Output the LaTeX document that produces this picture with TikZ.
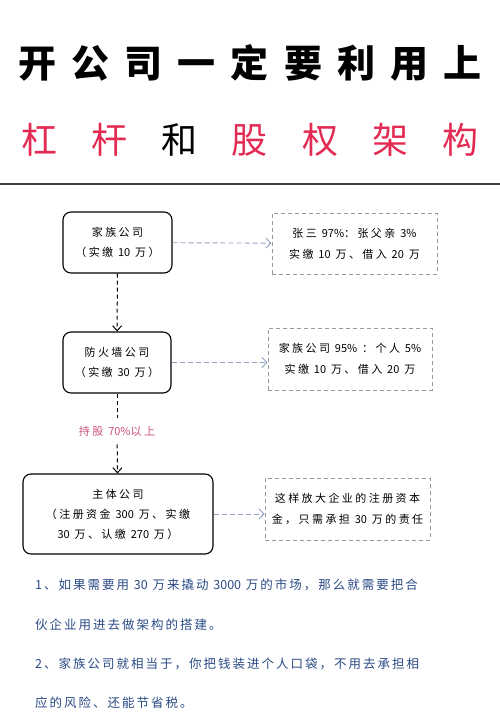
\documentclass[tikz,border=0pt]{standalone}
\usepackage{fontspec}
\usepackage{tikz}
\usetikzlibrary{positioning, arrows.meta}
\setmainfont[LetterSpace=22]{Noto Sans CJK SC}
\newfontfamily\headfont[LetterSpace=40]{Noto Sans CJK SC}
\newfontfamily\subheadfont[LetterSpace=95]{Noto Sans CJK SC}
\newfontfamily\notefont[LetterSpace=16]{Noto Sans CJK SC}
\newfontfamily\digitfont{Noto Sans CJK SC}
\newcommand\nm[1]{{\digitfont #1}}
\definecolor{headred}{RGB}{226,42,82}
\definecolor{lblpink}{RGB}{205,80,125}
\definecolor{notegray}{RGB}{150,152,162}
\definecolor{linkblue}{RGB}{140,160,192}
\definecolor{noteblue}{RGB}{42,74,132}
\tikzset{
  compbox/.style  = {draw, rounded corners=8pt, line width=1.1pt,
                     align=center, font=\fontsize{11}{20}\selectfont},
  notebox/.style  = {draw=notegray, dashed, line width=0.9pt,
                     dash pattern=on 4pt off 3pt, align=center,
                     font=\fontsize{11}{21}\selectfont},
  downarrow/.style = {dashed, line width=1pt, dash pattern=on 4pt off 3pt,
                      -{Straight Barb[length=5pt,width=9pt]}},
  sidearrow/.style = {draw=linkblue, line width=0.9pt,
                      dash pattern=on 5pt off 3pt,
                      -{Straight Barb[length=5pt,width=10pt]}},
  bodytxt/.style  = {anchor=west, inner sep=0pt, text=noteblue,
                     font=\notefont\fontsize{12.5}{14}\selectfont}
}
\begin{document}
\begin{tikzpicture}[x=1pt, y=-1pt]
  \useasboundingbox (0,0) rectangle (500,713);

  % title
  \node[font=\headfont\bfseries\fontsize{38}{40}\selectfont] (title1) at (250,63)
        {开公司一定要利用上};
  \node[font=\subheadfont\fontsize{36}{40}\selectfont, text=headred] (title2) at (250,140)
        {杠杆\kern0.95em\color{black}和\kern0.95em\color{headred}股权架构};
  \draw[line width=1.2pt, black!75] (0,184) -- (500,184);

  % companies
  \node[compbox, minimum width=109pt, minimum height=61pt] (fam) at (117.5,242.5)
        {家族公司\\（实缴 \nm{10} 万）};
  \node[compbox, minimum width=108pt, minimum height=61pt] (fire) at (117,362.5)
        {防火墙公司\\（实缴 \nm{30} 万）};
  \node[compbox, minimum width=190pt, minimum height=80pt] (main) at (118,514)
        {主体公司\\（注册资金 \nm{300} 万、实缴\\\nm{30} 万、认缴 \nm{270} 万）};

  % notes
  \node[notebox, minimum width=165pt, minimum height=61pt] (famnote) at (354.5,243.5)
        {张三 \nm{97\%}：张父亲 \nm{3\%}\\实缴 \nm{10} 万、借入 \nm{20} 万};
  \node[notebox, minimum width=164pt, minimum height=62pt] (firenote) at (350,359)
        {家族公司 \nm{95\%} ：个人 \nm{5\%}\\实缴 \nm{10} 万、借入 \nm{20} 万};
  \node[notebox, minimum width=165pt, minimum height=62pt] (mainnote) at (347.5,509)
        {这样放大企业的注册资本\\金，只需承担 \nm{30} 万的责任};

  \node[text=lblpink, font=\fontsize{11}{12}\selectfont, inner sep=8pt] (share) at (117,431)
        {持股 \nm{70\%}以上};

  \draw[downarrow] (fam) -- (fire);
  \draw[dashed, line width=1pt, dash pattern=on 4pt off 3pt] (fire) -- (share);
  \draw[downarrow] (share) -- (main);

  \draw[sidearrow] (fam) -- (famnote);
  \draw[sidearrow] (fire.east) -- (fire.east -| firenote.west);
  \draw[sidearrow] (main.east) -- (main.east -| mainnote.west);

  % explanation
  \node[bodytxt] (txt1) at (35,585) {1、如果需要用 \nm{30} 万来撬动 \nm{3000} 万的市场，那么就需要把合};
  \node[bodytxt] (txt2) at (35,625) {伙企业用进去做架构的搭建。};
  \node[bodytxt] (txt3) at (35,664) {2、家族公司就相当于，你把钱装进个人口袋，不用去承担相};
  \node[bodytxt] (txt4) at (35,703) {应的风险、还能节省税。};
\end{tikzpicture}
\end{document}
